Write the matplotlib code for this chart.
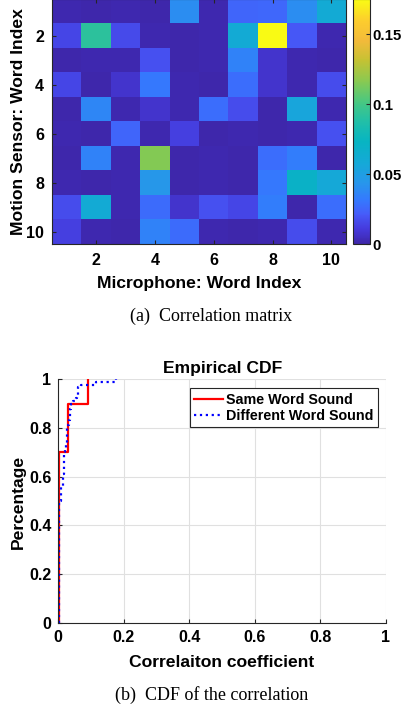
import matplotlib
matplotlib.use('Agg')
import matplotlib.pyplot as plt
from matplotlib.colors import LinearSegmentedColormap
import numpy as np

# correlation between motion sensor words (rows) and microphone words (columns)
row_1 = [0.002, 0.001, 0.002, 0.001, 0.040, 0.002, 0.025, 0.026, 0.040, 0.060]
row_2 = [0.015, 0.092, 0.016, 0.002, 0.001, 0.002, 0.060, 0.175, 0.020, 0.002]
row_3 = [0.001, 0.002, 0.002, 0.018, 0.001, 0.002, 0.035, 0.008, 0.002, 0.001]
row_4 = [0.015, 0.001, 0.008, 0.031, 0.002, 0.001, 0.028, 0.008, 0.002, 0.017]
row_5 = [0.001, 0.037, 0.002, 0.008, 0.002, 0.028, 0.017, 0.001, 0.055, 0.002]
row_6 = [0.002, 0.001, 0.025, 0.002, 0.013, 0.001, 0.002, 0.001, 0.002, 0.018]
row_7 = [0.001, 0.035, 0.002, 0.115, 0.001, 0.002, 0.001, 0.028, 0.033, 0.001]
row_8 = [0.002, 0.001, 0.002, 0.045, 0.001, 0.002, 0.001, 0.031, 0.070, 0.058]
row_9 = [0.017, 0.060, 0.002, 0.027, 0.008, 0.018, 0.015, 0.033, 0.001, 0.028]
row_10 = [0.013, 0.002, 0.001, 0.035, 0.027, 0.002, 0.001, 0.002, 0.017, 0.002]
word_index = [1, 2, 3, 4, 5, 6, 7, 8, 9, 10]
cbar_ticks = [0, 0.05, 0.1, 0.15]
cdf_ticks = [0, 0.2, 0.4, 0.6, 0.8, 1]

corr = np.array([row_1, row_2, row_3, row_4, row_5,
                 row_6, row_7, row_8, row_9, row_10])

# parula-like colormap
parula = LinearSegmentedColormap.from_list('parula', [
    (0.000, (0.2422, 0.1504, 0.6603)),
    (0.060, (0.2720, 0.2250, 0.8600)),
    (0.120, (0.2780, 0.3556, 0.9777)),
    (0.180, (0.2050, 0.4780, 0.9950)),
    (0.250, (0.1540, 0.5902, 0.9218)),
    (0.330, (0.0820, 0.6620, 0.8450)),
    (0.420, (0.0300, 0.7080, 0.7600)),
    (0.500, (0.1280, 0.7500, 0.6600)),
    (0.580, (0.2800, 0.7820, 0.5100)),
    (0.660, (0.5200, 0.7900, 0.3300)),
    (0.750, (0.7700, 0.7600, 0.2000)),
    (0.830, (0.9500, 0.7300, 0.2300)),
    (0.910, (0.9900, 0.8000, 0.1800)),
    (1.000, (0.9769, 0.9839, 0.0805)),
])

plt.rcParams['font.family'] = ['Liberation Sans', 'DejaVu Sans']
plt.rcParams['font.weight'] = 'bold'
plt.rcParams['font.size'] = 11.5
axis_gray = (0.15, 0.15, 0.15)
label_size = 12.6

fig = plt.figure(figsize=(4.03, 7.11), dpi=100)

# ---- (a) correlation matrix ----
ax1 = fig.add_axes([52.3 / 403, 1 - 244.2 / 711, 293.7 / 403, 245 / 711])
im = ax1.imshow(corr, cmap=parula, vmin=0, vmax=0.1752, aspect='auto',
                interpolation='nearest',
                extent=[0.5, 10.5, 10.5, 0.5])
ax1.set_xticks(word_index[1::2])
ax1.set_yticks(word_index[1::2])
ax1.tick_params(direction='in', top=True, right=True, length=3,
                color=axis_gray, labelsize=11.5, pad=6)
for s in ax1.spines.values():
    s.set_color(axis_gray)
    s.set_linewidth(0.8)
ax1.set_xlabel('Microphone: Word Index', fontsize=label_size, fontweight='bold',
               va='baseline')
ax1.xaxis.set_label_coords(0.5, -0.180)
ax1.set_ylabel('Motion Sensor: Word Index', fontsize=label_size, fontweight='bold')
ax1.yaxis.label.set_va('center')
ax1.yaxis.set_label_coords(-0.115, 0.5)

cax = fig.add_axes([353.3 / 403, 1 - 244.2 / 711, 16.7 / 403, 245 / 711])
cb = fig.colorbar(im, cax=cax, ticks=cbar_ticks)
cb.ax.set_yticklabels(['0', '0.05', '0.1', '0.15'])
cb.ax.tick_params(direction='in', length=3, color=axis_gray, labelsize=10.8, pad=2)
cb.outline.set_edgecolor(axis_gray)
cb.outline.set_linewidth(0.8)

fig.text(211.3 / 403, 1 - 321 / 711, '(a)  Correlation matrix', ha='center', va='baseline',
         family='Liberation Serif', fontweight='normal', fontsize=13)

# ---- (b) empirical CDF of same vs different word ----
same = np.sort(np.diag(corr))
diff = np.sort(corr[~np.eye(10, dtype=bool)])

def ecdf(v):
    x = np.concatenate([[v[0]], v])
    y = np.arange(len(v) + 1) / len(v)
    return x, y

ax2 = fig.add_axes([58.3 / 403, 1 - 622.7 / 711, 327.7 / 403, 243.4 / 711])
xs, ys = ecdf(same)
ax2.step(xs, ys, where='post', color='red', linewidth=1.6, label='Same Word Sound')
xd, yd = ecdf(diff)
ax2.step(xd, yd, where='post', color='blue', linestyle=':', linewidth=1.6,
         label='Different Word Sound')

ax2.set_xlim(0, 1)
ax2.set_ylim(0, 1)
ax2.set_xticks(cdf_ticks)
ax2.set_yticks(cdf_ticks)
ax2.set_xticklabels(['0', '0.2', '0.4', '0.6', '0.8', '1'])
ax2.set_yticklabels(['0', '0.2', '0.4', '0.6', '0.8', '1'])
ax2.grid(True, color=(0.88, 0.88, 0.88), linewidth=0.8)
ax2.set_axisbelow(True)
ax2.spines['top'].set_visible(False)
ax2.spines['right'].set_visible(False)
ax2.spines['left'].set_color(axis_gray)
ax2.spines['bottom'].set_color(axis_gray)
ax2.tick_params(direction='in', length=3, color=axis_gray, labelsize=11.5, pad=5)
ax2.set_title('Empirical CDF', fontsize=label_size, fontweight='bold', pad=4.3)
ax2.set_xlabel('Correlaiton coefficient', fontsize=label_size, fontweight='bold',
               va='baseline')
ax2.xaxis.set_label_coords(0.4986, -0.1808)
ax2.set_ylabel('Percentage', fontsize=label_size, fontweight='bold')
ax2.yaxis.label.set_va('center')
ax2.yaxis.set_label_coords(-0.1215, 0.497)

leg = ax2.legend(loc='upper right', bbox_to_anchor=(0.9747, 0.963), borderaxespad=0,
                 fancybox=False, framealpha=1, edgecolor=axis_gray,
                 handlelength=2.0, handletextpad=0.23, borderpad=0.3,
                 labelspacing=0.15, prop={'weight': 'bold', 'size': 10.3})
leg.get_frame().set_linewidth(0.8)

fig.text(211.7 / 403, 1 - 700 / 711, '(b)  CDF of the correlation', ha='center', va='baseline',
         family='Liberation Serif', fontweight='normal', fontsize=13)

plt.savefig('out.png', dpi=100)
